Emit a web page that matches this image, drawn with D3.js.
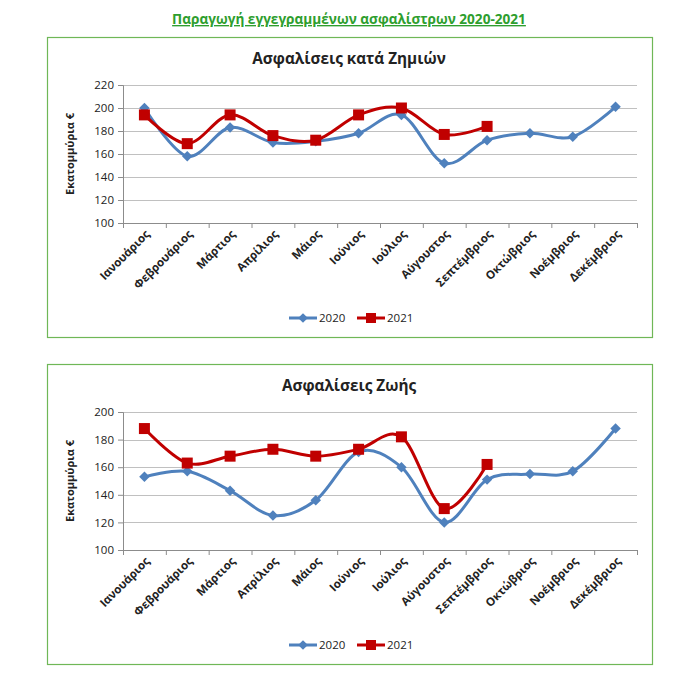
<!DOCTYPE html>
<html lang="el">
<head>
<meta charset="utf-8">
<title>Ασφάλιστρα 2020-2021</title>
<script src="https://cdn.jsdelivr.net/npm/d3@7"></script>
<style>
  body { margin: 0; background: #fff; }
  text { font-family: "Open Sans", "DejaVu Sans", sans-serif; fill: #222; }
</style>
</head>
<body>
<script>
// months (category axis)
var months = ["Ιανουάριος", "Φεβρουάριος", "Μάρτιος", "Απρίλιος", "Μάιος", "Ιούνιος",
              "Ιούλιος", "Αύγουστος", "Σεπτέμβριος", "Οκτώβριος", "Νοέμβριος", "Δεκέμβριος"];

// Ασφαλίσεις κατά Ζημιών (εκατ. €)
var damage2020 = [200, 158, 183, 170, 171, 178, 194, 152, 172, 178, 175, 201];
var damage2021 = [194, 169, 194, 176, 172, 194, 200, 177, 184];
var damageTicks = [100, 120, 140, 160, 180, 200, 220];

// Ασφαλίσεις Ζωής (εκατ. €)
var life2020 = [153, 157, 143, 125, 136, 171, 160, 120, 151, 155, 157, 188];
var life2021 = [188, 163, 168, 173, 168, 173, 182, 130, 162];
var lifeTicks = [100, 120, 140, 160, 180, 200];

var seriesNames = ["2020", "2021"];

var w = 697, h = 692;
var blue = "#4f81bd", red = "#c00000";

var svg = d3.select("body").append("svg")
    .attr("width", w)
    .attr("height", h);

// page heading
svg.append("text")
    .attr("x", 349)
    .attr("y", 24)
    .attr("text-anchor", "middle")
    .attr("font-size", 13.6)
    .attr("font-weight", "bold")
    .attr("text-decoration", "underline")
    .style("fill", "#2e9e2e")
    .text("Παραγωγή εγγεγραμμένων ασφαλίστρων 2020-2021");

function drawChart(top, title, s2020, s2021, ticks) {
    var boxH = 300;
    var g = svg.append("g").attr("transform", "translate(0," + top + ")");

    g.append("rect")
        .attr("x", 47.5).attr("y", 0.5)
        .attr("width", 605).attr("height", boxH)
        .attr("fill", "#fff")
        .attr("stroke", "#6fb757")
        .attr("stroke-width", 1.2);

    g.append("text")
        .attr("x", 349)
        .attr("y", 27)
        .attr("text-anchor", "middle")
        .attr("font-size", 15.3)
        .attr("font-weight", "bold")
        .text(title);

    var plotTop = 48, plotBottom = 186;
    var x0 = 123, x1 = 637;

    var y = d3.scaleLinear()
        .domain([ticks[0], ticks[ticks.length - 1]])
        .range([plotBottom, plotTop]);

    var xBand = d3.scaleBand().domain(months).range([x0, x1]);
    var xIdx = d3.scaleLinear().domain([0, months.length]).range([x0, x1]);

    // gridlines
    g.append("g")
        .selectAll("line")
        .data(ticks.slice(1))
        .enter()
        .append("line")
        .attr("x1", x0).attr("x2", x1)
        .attr("y1", function(d) { return Math.round(y(d)) + 0.5; })
        .attr("y2", function(d) { return Math.round(y(d)) + 0.5; })
        .attr("stroke", "#c0c0c0")
        .attr("stroke-width", 1);

    // y axis
    var yAxis = d3.axisLeft(y).tickValues(ticks).tickSize(5).tickPadding(4);
    var ya = g.append("g")
        .attr("transform", "translate(" + x0 + ",0)")
        .call(yAxis);
    ya.select(".domain").attr("stroke", "#8c8c8c");
    ya.selectAll(".tick line").attr("stroke", "#8c8c8c");
    ya.selectAll(".tick text")
        .attr("font-size", 11.5)
        .style("fill", "#222")
        .style("font-family", "Open Sans, sans-serif");

    // x axis (ticks between categories)
    var xAxis = d3.axisBottom(xIdx).tickValues(d3.range(0, months.length + 1))
        .tickSize(5).tickFormat("");
    var xa = g.append("g")
        .attr("transform", "translate(0," + plotBottom + ")")
        .call(xAxis);
    xa.select(".domain").attr("stroke", "#8c8c8c");
    xa.selectAll(".tick line").attr("stroke", "#8c8c8c");

    // month labels
    g.append("g")
        .selectAll("text")
        .data(months)
        .enter()
        .append("text")
        .attr("transform", function(d) {
            return "translate(" + (xBand(d) + xBand.bandwidth() / 2 + 6) + "," + (plotBottom + 12) + ") rotate(-45)";
        })
        .attr("text-anchor", "end")
        .attr("font-size", 11.5)
        .attr("font-weight", "bold")
        .text(function(d) { return d; });

    // y title
    g.append("text")
        .attr("transform", "translate(74," + ((plotTop + plotBottom) / 2) + ") rotate(-90)")
        .attr("text-anchor", "middle")
        .attr("font-size", 11)
        .attr("font-weight", "bold")
        .text("Εκατομμύρια  €");

    var line = d3.line()
        .x(function(d, i) { return xBand(months[i]) + xBand.bandwidth() / 2; })
        .y(function(d) { return y(d); })
        .curve(d3.curveCardinal.tension(0));

    g.append("path")
        .datum(s2020)
        .attr("d", line)
        .attr("fill", "none")
        .attr("stroke", blue)
        .attr("stroke-width", 3);

    g.append("g")
        .selectAll("path")
        .data(s2020)
        .enter()
        .append("path")
        .attr("d", d3.symbol().type(d3.symbolDiamond2).size(70))
        .attr("transform", function(d, i) {
            return "translate(" + (xBand(months[i]) + xBand.bandwidth() / 2) + "," + y(d) + ")";
        })
        .attr("fill", blue);

    g.append("path")
        .datum(s2021)
        .attr("d", line)
        .attr("fill", "none")
        .attr("stroke", red)
        .attr("stroke-width", 3);

    g.append("g")
        .selectAll("rect")
        .data(s2021)
        .enter()
        .append("rect")
        .attr("x", function(d, i) { return xBand(months[i]) + xBand.bandwidth() / 2 - 5.5; })
        .attr("y", function(d) { return y(d) - 5.5; })
        .attr("width", 11)
        .attr("height", 11)
        .attr("fill", red);

    // legend
    var legY = 281;
    var leg = g.append("g");
    var items = [
        { name: seriesNames[0], color: blue, x: 289 },
        { name: seriesNames[1], color: red, x: 357 }
    ];
    items.forEach(function(it, k) {
        leg.append("line")
            .attr("x1", it.x).attr("x2", it.x + 28)
            .attr("y1", legY).attr("y2", legY)
            .attr("stroke", it.color)
            .attr("stroke-width", 3);
        if (k === 0) {
            leg.append("path")
                .attr("d", d3.symbol().type(d3.symbolDiamond2).size(60))
                .attr("transform", "translate(" + (it.x + 14) + "," + legY + ")")
                .attr("fill", it.color);
        } else {
            leg.append("rect")
                .attr("x", it.x + 9).attr("y", legY - 5)
                .attr("width", 10).attr("height", 10)
                .attr("fill", it.color);
        }
        leg.append("text")
            .attr("x", it.x + 30)
            .attr("y", legY + 4)
            .attr("font-size", 11.5)
            .text(it.name);
    });
}

drawChart(37, "Ασφαλίσεις κατά Ζημιών", damage2020, damage2021, damageTicks);
drawChart(364, "Ασφαλίσεις Ζωής", life2020, life2021, lifeTicks);
</script>
</body>
</html>
